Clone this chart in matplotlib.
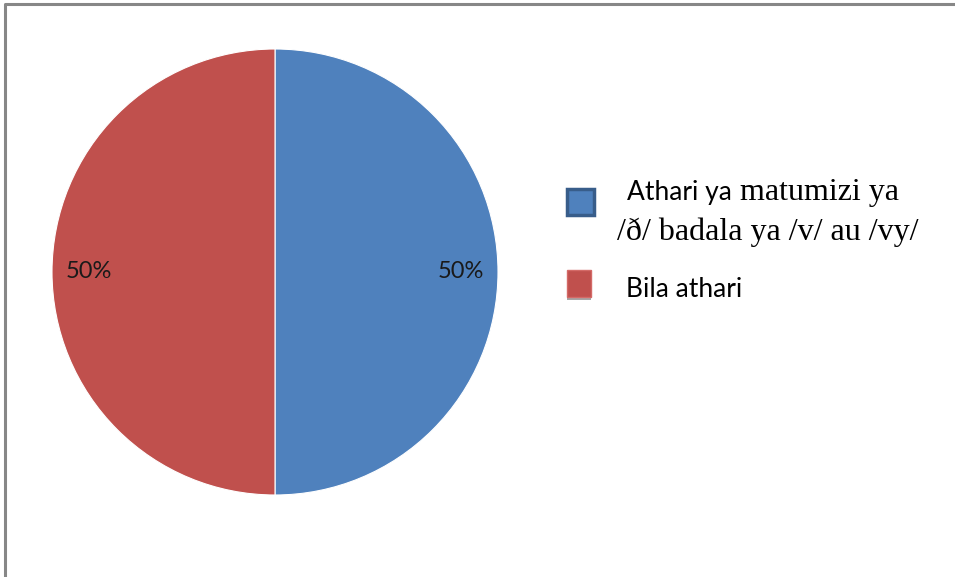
import matplotlib.pyplot as plt
from matplotlib.patches import Rectangle
from matplotlib.lines import Line2D

# data
labels = ["Athari ya matumizi ya /ð/ badala ya /v/ au /vy/", "Bila athari"]
values = [50, 50]
colors = ["#4F81BD", "#C0504D"]

W, H = 955, 577


def px(x, y):
    return x / W, 1 - y / H


fig = plt.figure(figsize=(W / 100, H / 100), dpi=100)

# chart area border (left + top only visible)
fig.add_artist(Line2D([5 / W, 5 / W, 1.0], [0.0, 1 - 4 / H, 1 - 4 / H],
                      transform=fig.transFigure, color="#878787", lw=2.2))

# pie centered at (275, 272) with radius ~223 px
cx, cy, r = 275, 272, 223
ax = fig.add_axes([(cx - r) / W, 1 - (cy + r) / H, 2 * r / W, 2 * r / H])
wedges, texts, autotexts = ax.pie(values, colors=colors, startangle=90, counterclock=False,
                                  autopct="%1.0f%%", pctdistance=0.835,
                                  wedgeprops=dict(edgecolor="white", linewidth=0.8),
                                  textprops=dict(fontfamily="Lato", fontsize=17, color="#1a1a1a"))
ax.set_xlim(-1, 1)
ax.set_ylim(-1, 1)
ax.set_aspect("equal")
ax.axis("off")

# legend markers
x0, y0 = px(567, 215)
fig.add_artist(Rectangle((x0, y0), 27 / W, 26 / H, transform=fig.transFigure,
                         facecolor=colors[0], edgecolor="#385D8A", lw=2.5))
sx, sy = px(567, 300)
fig.add_artist(Rectangle((sx, sy), 24 / W, 4 / H, transform=fig.transFigure,
                         facecolor="#A6A6A6", edgecolor="none"))
x1, y1 = px(567, 297)
fig.add_artist(Rectangle((x1, y1), 24 / W, 27 / H, transform=fig.transFigure,
                         facecolor=colors[1], edgecolor="#D46A67", lw=1))

# legend text: first entry mixes a sans and a serif face like the original
words = labels[0].split(" ")
sans_part = " ".join(words[:2])          # "Athari ya"
serif_part1 = " ".join(words[2:4])       # "matumizi ya"
serif_part2 = " ".join(words[4:])        # "/ð/ badala ya /v/ au /vy/"

sans = dict(fontfamily="Lato", fontsize=19, color="black", va="baseline")
serif = dict(fontfamily="Liberation Serif", fontsize=23, color="black", va="baseline")

t1 = fig.text(*px(627, 200), sans_part, **sans)
renderer = fig.canvas.get_renderer()
bb = t1.get_window_extent(renderer)
fig.text((bb.x1 + 8) / W, 1 - 200 / H, serif_part1, **serif)
fig.text(*px(617, 240), serif_part2, **serif)
fig.text(*px(626, 297), labels[1], **sans)

fig.savefig("out.png", dpi=100, facecolor="white")
